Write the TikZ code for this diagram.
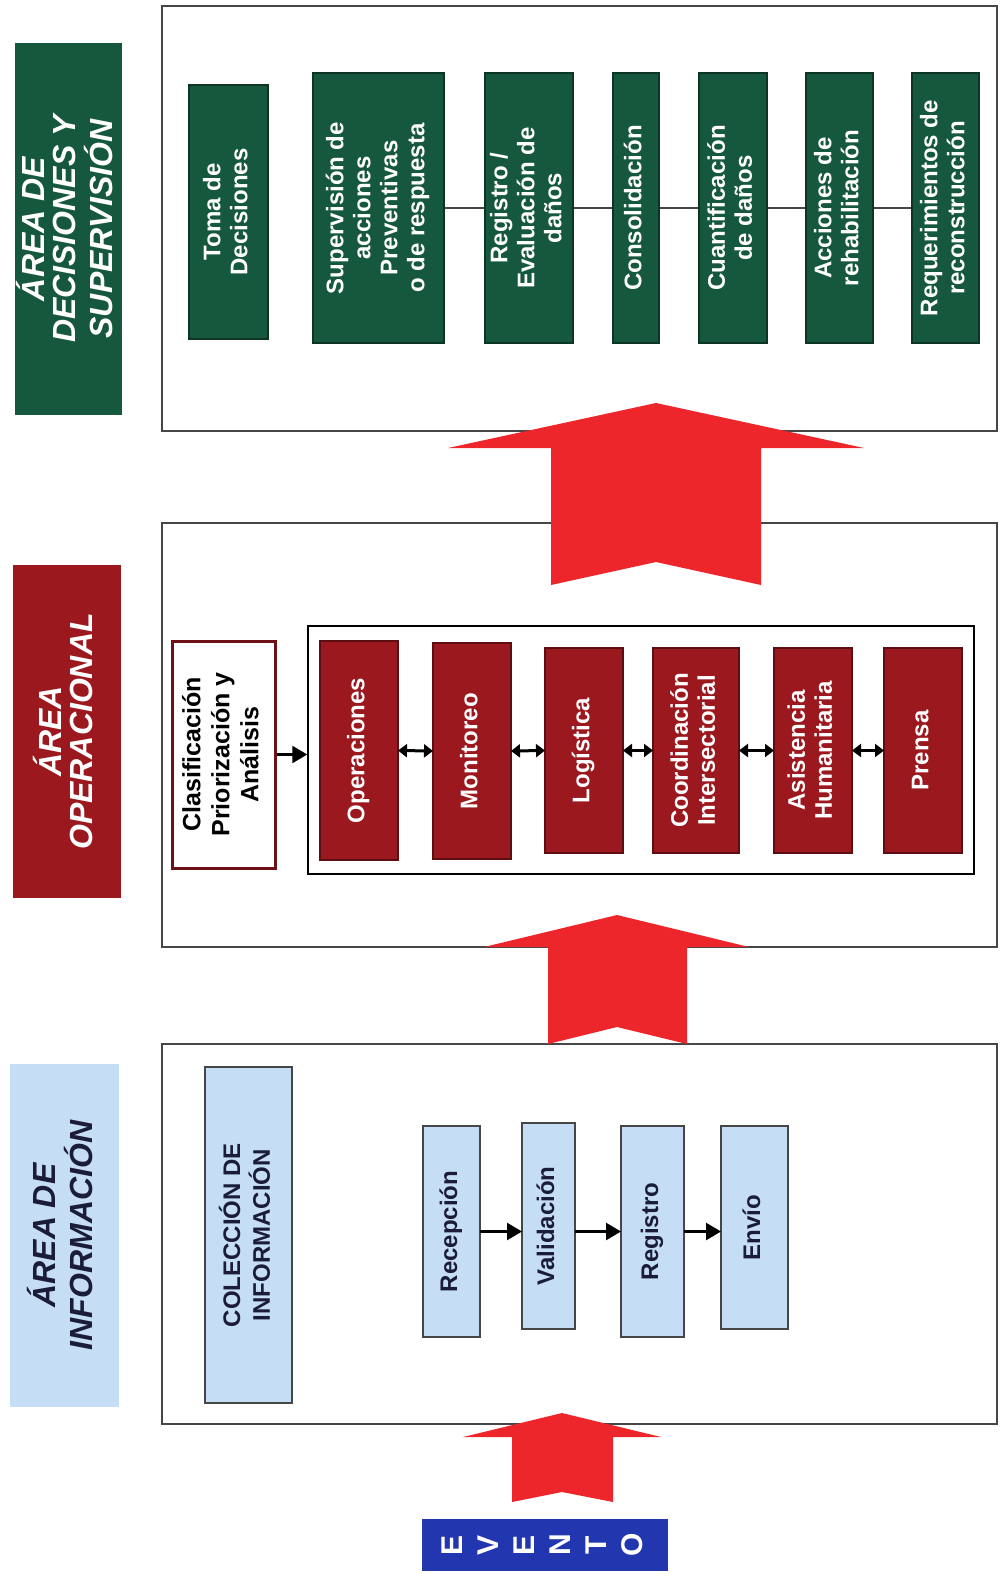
\documentclass[tikz,border=0pt]{standalone}
\usepackage{fontspec}
\setmainfont{Liberation Sans}
\usepackage{graphicx}
\usetikzlibrary{arrows.meta}

\definecolor{decgreen}{RGB}{22,88,62}
\definecolor{opred}{RGB}{155,24,30}
\definecolor{infoblue}{RGB}{198,221,246}
\definecolor{arrowred}{RGB}{236,38,42}
\definecolor{eventblue}{RGB}{34,54,176}
\definecolor{framegray}{RGB}{70,70,70}
\definecolor{navytext}{RGB}{26,28,56}

% rotated, centred multi-line label
\newcommand{\vtxt}[1]{\rotatebox{90}{\begin{tabular}{@{}c@{}}#1\end{tabular}}}

\tikzset{
  sz/.style 2 args={minimum width=#1pt,minimum height=#2pt},
  frame/.style={draw=framegray,line width=2pt},
  areatitle/.style={inner sep=0pt,outer sep=0pt,font=\fontsize{32}{29}\selectfont\bfseries\itshape},
  gbox/.style={fill=decgreen,draw=decgreen!60!black,line width=1.2pt,text=white,inner sep=0pt,outer sep=0pt,font=\fontsize{24}{27}\selectfont\bfseries},
  rbox/.style={fill=opred,draw=opred!60!black,line width=1.2pt,text=white,inner sep=0pt,outer sep=0pt,font=\fontsize{24}{27}\selectfont\bfseries},
  bbox/.style={fill=infoblue,draw=framegray,line width=2pt,text=navytext,inner sep=0pt,outer sep=0pt,font=\fontsize{24}{28}\selectfont\bfseries},
  bigarrow/.style={fill=arrowred},
  flow/.style={line width=2.5pt,-{Triangle[length=15pt,width=17pt]}},
  both/.style={line width=3pt,{Triangle[length=9pt,width=13pt]}-{Triangle[length=9pt,width=13pt]}}
}

\begin{document}
\begin{tikzpicture}[x=1pt,y=-1pt]
    \fill[white](0,0)rectangle(1001,1574);
    \useasboundingbox(0,0)rectangle(1001,1574);

    % area titles
    \node[areatitle,fill=decgreen,text=white,sz={107}{372}](dectitle)at(68.5,229){\vtxt{ÁREA DE\\DECISIONES Y\\SUPERVISIÓN}};
    \node[areatitle,fill=opred,text=white,sz={108}{333}](optitle)at(67,731.5){\vtxt{ÁREA\\OPERACIONAL}};
    \node[areatitle,fill=infoblue,text=navytext,sz={109}{343}](infotitle)at(64.5,1235.5){\vtxt{ÁREA DE\\INFORMACIÓN}};

    % frames
    \node[frame,sz={835}{425}](dframe)at(579.5,218.5){};
    \node[frame,sz={835}{424}](oframe)at(579.5,735){};
    \node[frame,sz={835}{380}](iframe)at(579.5,1234){};

    % decisiones y supervision
    \draw[line width=2pt,framegray](378.5,208)--(945.5,208);
    \node[gbox,sz={79}{254}](toma)at(228.5,212){\vtxt{Toma de\\Decisiones}};
    \node[gbox,sz={131}{270}](superv)at(378.5,208){\vtxt{Supervisión de\\acciones\\Preventivas\\o de respuesta}};
    \node[gbox,sz={88}{270}](evald)at(529,208){\vtxt{Registro /\\Evaluación de\\daños}};
    \node[gbox,sz={46}{270}](consol)at(636,208){\vtxt{Consolidación}};
    \node[gbox,sz={68}{270}](cuant)at(733,208){\vtxt{Cuantificación\\de daños}};
    \node[gbox,sz={67}{270}](rehab)at(839.5,208){\vtxt{Acciones de\\rehabilitación}};
    \node[gbox,sz={67}{270}](recons)at(945.5,208){\vtxt{Requerimientos de\\reconstrucción}};

    % operacional
    \node[draw=opred!70!black,line width=3pt,fill=white,text=black,inner sep=0pt,font=\fontsize{25}{29}\selectfont\bfseries,sz={103}{227}](clasif)at(223.5,754.5){\vtxt{Clasificación\\Priorización y\\Análisis}};
    \node[draw=black,line width=1.5pt,sz={666}{248}](grupo)at(641,750){};
    \node[rbox,sz={78}{219}](oper)at(359,750.5){\vtxt{Operaciones}};
    \node[rbox,sz={78}{216}](monit)at(472,751){\vtxt{Monitoreo}};
    \node[rbox,sz={78}{205}](logis)at(584,750.5){\vtxt{Logística}};
    \node[rbox,sz={86}{205}](coord)at(696,750.5){\vtxt{Coordinación\\Intersectorial}};
    \node[rbox,sz={78}{205}](asist)at(813,750.5){\vtxt{Asistencia\\Humanitaria}};
    \node[rbox,sz={78}{205}](prensa)at(923,750.5){\vtxt{Prensa}};

    \draw[flow](clasif.east)--(clasif.east-|grupo.west);
    \draw[both](oper.east)--(monit.west);
    \draw[both](monit.east)--(logis.west);
    \draw[both](logis.east)--(coord.west);
    \draw[both](coord.east)--(asist.west);
    \draw[both](asist.east)--(prensa.west);

    % informacion
    \node[bbox,sz={87}{336}](colec)at(248.5,1235){\vtxt{COLECCIÓN DE\\INFORMACIÓN}};
    \node[bbox,sz={57}{211}](recep)at(451.5,1231.5){\vtxt{Recepción}};
    \node[bbox,sz={53}{206}](valid)at(548.5,1226){\vtxt{Validación}};
    \node[bbox,sz={63}{211}](regis)at(652.5,1231.5){\vtxt{Registro}};
    \node[bbox,sz={67}{203}](envio)at(754.5,1227.5){\vtxt{Envío}};

    \draw[flow](recep.east)--(recep.east-|valid.west);
    \draw[flow](recep.east-|valid.east)--(recep.east-|regis.west);
    \draw[flow](regis.east)--(regis.east-|envio.west);

    % big arrows between the areas
    \fill[bigarrow](656,403)--(864,448)--(761,448)--(761,585)--(656,562)--(551,585)--(551,448)--(448,448)--cycle;
    \fill[bigarrow](617,915)--(749,947)--(687,947)--(687,1044)--(617,1027)--(548,1044)--(548,947)--(484,947)--cycle;
    \fill[bigarrow](562,1413)--(661,1437)--(613,1437)--(613,1502)--(562,1492)--(512,1502)--(512,1437)--(463,1437)--cycle;

    \node[fill=eventblue,text=white,inner sep=0pt,font=\fontsize{30}{36}\selectfont\bfseries,sz={246}{52}](evento)at(545,1545){\vtxt{E\\V\\E\\N\\T\\O}};
\end{tikzpicture}
\end{document}
